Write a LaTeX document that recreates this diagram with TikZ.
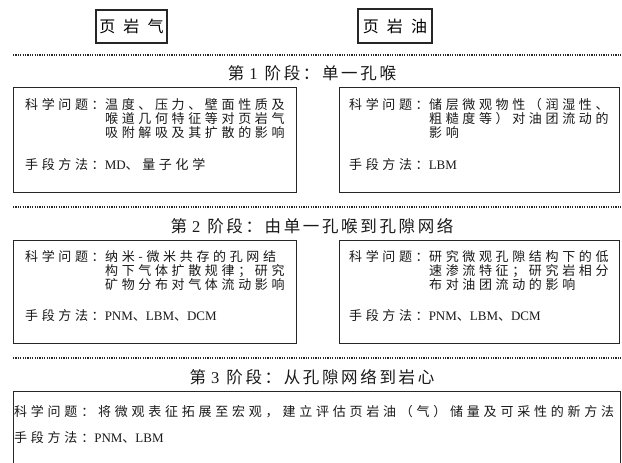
\documentclass[tikz,border=0pt]{standalone}
\usepackage{fontspec}
\setmainfont{Liberation Serif}
\newfontfamily\cjkbody{Noto Sans CJK SC}[LetterSpace=28]
\newfontfamily\cjkwide{Noto Sans CJK SC}[LetterSpace=29]
\newfontfamily\cjkttl{Noto Sans CJK SC}[LetterSpace=16]
\newcommand\zb[1]{{\cjkbody #1}}
\newcommand\zw[1]{{\cjkwide #1}}
\newcommand\zt[1]{{\cjkttl #1}}
\begin{document}
\begin{tikzpicture}[x=1pt,y=-1pt,
  frame/.style={draw=black!85, line width=1.1pt, inner sep=0pt, anchor=north west},
  headbox/.style={draw=black!85, line width=1.1pt, inner sep=0pt, font=\fontsize{16}{18}\selectfont},
  lbl/.style={inner sep=0pt, anchor=north west, text=black!90, font=\fontsize{13}{14}\selectfont},
  ttl/.style={inner sep=0pt, text=black!90, font=\fontsize{16.5}{18}\selectfont},
  sepline/.style={black!85, line width=1.1pt, dash pattern=on 1.1pt off 1.3pt}]
\clip (0,0) rectangle (622,463);
\fill[white] (0,0) rectangle (622,463);

% headers
\node[headbox, minimum width=71, minimum height=33] (hg) at (131.5,26.5) {\zt{页\hspace{2pt} 岩\hspace{2pt} 气}};
\node[headbox, minimum width=74, minimum height=34] (ho) at (395,26) {\zt{页\hspace{2pt} 岩\hspace{2pt} 油}};

% separators
\coordinate (s1a) at (13,55);  \coordinate (s1b) at (622,55);
\coordinate (s2a) at (13,207); \coordinate (s2b) at (622,207);
\coordinate (s3a) at (13,358); \coordinate (s3b) at (622,358);
\draw[sepline] (s1a) -- (s1b);
\draw[sepline] (s2a) -- (s2b);
\draw[sepline] (s3a) -- (s3b);

% titles
\node[ttl] (t1) at (312,73) {\zt{第}\hspace{5pt}1\hspace{7pt}\zt{阶段：单一孔喉}};
\node[ttl] (t2) at (312,226) {\zt{第}\hspace{5pt}2\hspace{7pt}\zt{阶段：由单一孔喉到孔隙网络}};
\node[ttl] (t3) at (312,377) {\zt{第}\hspace{5pt}3\hspace{7pt}\zt{阶段：从孔隙网络到岩心}};

% stage 1
\node[frame, minimum width=283, minimum height=105] (f1l) at (13,87) {};
\node[frame, minimum width=280, minimum height=105] (f1r) at (339,87) {};
\node[lbl] (q1l) at (25,98.5) {\zb{科学问题：}};
\node[lbl, align=left] (b1l) at (q1l.north east) {\zb{温度、压力、壁面性质及}\\\zb{喉道几何特征等对页岩气}\\\zb{吸附解吸及其扩散的影响}};
\node[lbl] (m1l) at (25,158.5) {\zb{手段方法：}MD\zb{、量子化学}};
\node[lbl] (q1r) at (349,98.5) {\zb{科学问题：}};
\node[lbl, align=left] (b1r) at (q1r.north east) {\zb{储层微观物性（润湿性、}\\\zb{粗糙度等）对油团流动的}\\\zb{影响}};
\node[lbl] (m1r) at (349,158.5) {\zb{手段方法：}LBM};

% stage 2
\node[frame, minimum width=283, minimum height=103] (f2l) at (13,240) {};
\node[frame, minimum width=280, minimum height=103] (f2r) at (339,240) {};
\node[lbl] (q2l) at (25,250.5) {\zb{科学问题：}};
\node[lbl, align=left] (b2l) at (q2l.north east) {\zb{纳米-微米共存的孔网结}\\\zb{构下气体扩散规律；研究}\\\zb{矿物分布对气体流动影响}};
\node[lbl] (m2l) at (25,309.5) {\zb{手段方法：}PNM\zb{、}LBM\zb{、}DCM};
\node[lbl] (q2r) at (349,250.5) {\zb{科学问题：}};
\node[lbl, align=left] (b2r) at (q2r.north east) {\zb{研究微观孔隙结构下的低}\\\zb{速渗流特征；研究岩相分}\\\zb{布对油团流动的影响}};
\node[lbl] (m2r) at (349,309.5) {\zb{手段方法：}PNM\zb{、}LBM\zb{、}DCM};

% stage 3
\node[frame, minimum width=607, minimum height=100] (f3) at (13,391) {};
\node[lbl] (q3) at (14,405.5) {\zw{科学问题：将微观表征拓展至宏观，建立评估页岩油（气）储量及可采性的新方法}};
\node[lbl] (m3) at (14,431.5) {\zw{手段方法：}PNM\zw{、}LBM};
\end{tikzpicture}
\end{document}
